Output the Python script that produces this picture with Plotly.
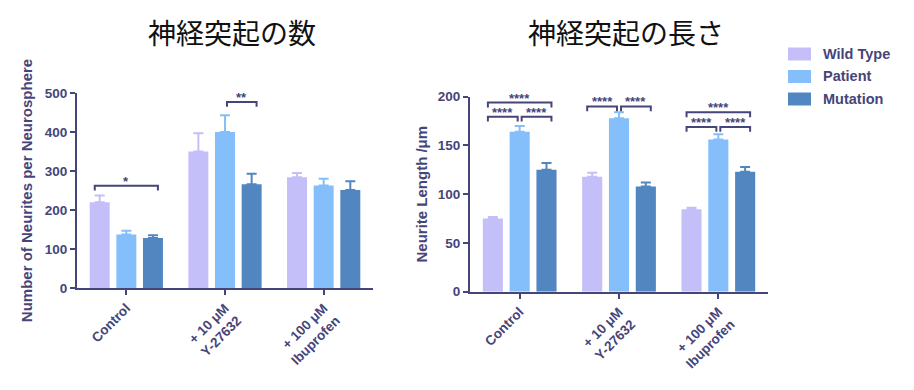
import plotly.graph_objects as go

# ---------------- data ----------------
categories = ["Control", "+ 10 μM<br>Y-27632", "+ 100 μM<br>Ibuprofen"]
series_names = ["Wild Type", "Patient", "Mutation"]
colors = ["#c4bff8", "#84bffc", "#5186c0"]

count_wt = [220, 350, 284]
count_pat = [137, 400, 263]
count_mut = [128, 266, 251]
count_wt_err = [17, 47, 11]
count_pat_err = [10, 43, 17]
count_mut_err = [7, 27, 23]

length_wt = [75, 118, 84.5]
length_pat = [164, 178, 156]
length_mut = [125, 108, 123]
length_wt_err = [1.5, 4, 1.5]
length_pat_err = [6, 6, 5.5]
length_mut_err = [7, 4, 5]

# significance comparisons: (category index, series a, series b, bracket height, label)
count_sig = [(0, 0, 2, 262, "*"), (1, 1, 2, 477, "**")]
length_sig = [
    (0, 0, 2, 194, "****"), (0, 0, 1, 179.5, "****"), (0, 1, 2, 179.5, "****"),
    (1, 0, 1, 190, "****"), (1, 1, 2, 190, "****"),
    (2, 0, 2, 184, "****"), (2, 0, 1, 169, "****"), (2, 1, 2, 169, "****"),
]

# ---------------- geometry helpers (page has an 8px body margin) ----------------
W, H = 898, 374


def PX(px):
    return (px - 8) / W


def PY(py):
    return 1 - (py - 8) / H


ink = "#45457a"
FAM = "Liberation Sans, Arial, sans-serif"
fw = dict(family=FAM, size=13.5, color=ink, weight="bold")

fig = go.Figure()
xs = list(range(len(categories)))
count_vals = [count_wt, count_pat, count_mut]
count_errs = [count_wt_err, count_pat_err, count_mut_err]
length_vals = [length_wt, length_pat, length_mut]
length_errs = [length_wt_err, length_pat_err, length_mut_err]

for i, name in enumerate(series_names):
    fig.add_trace(go.Bar(
        x=xs, y=count_vals[i], name=name, marker_color=colors[i], marker_line_width=0,
        error_y=dict(type="data", symmetric=False, array=count_errs[i], arrayminus=[0] * 3,
                     color=colors[i], thickness=2, width=5),
        legendgroup=name, showlegend=False, xaxis="x", yaxis="y"))
for i, name in enumerate(series_names):
    fig.add_trace(go.Bar(
        x=xs, y=length_vals[i], name=name, marker_color=colors[i], marker_line_width=0,
        error_y=dict(type="data", symmetric=False, array=length_errs[i], arrayminus=[0] * 3,
                     color=colors[i], thickness=2, width=5),
        legendgroup=name, showlegend=False, xaxis="x2", yaxis="y2"))

bargap = 0.19
slot = (1 - bargap) / 3
offsets = [-slot, 0, slot]


def add_brackets(sig, xref, yref, drop):
    for cat, a, b, h, lab in sig:
        pad_l = -0.05 if a == 0 else 0.02
        pad_r = 0.05 if b == 2 else -0.02
        x0 = cat + offsets[a] + pad_l
        x1 = cat + offsets[b] + pad_r
        fig.add_shape(type="path",
                      path=f"M {x0},{h - drop} L {x0},{h} L {x1},{h} L {x1},{h - drop}",
                      xref=xref, yref=yref, line=dict(color=ink, width=2))
        fig.add_annotation(x=(x0 + x1) / 2, y=h, xref=xref, yref=yref, text=lab,
                           showarrow=False, yanchor="bottom", yshift=-5,
                           font=dict(family=FAM, size=13, color=ink, weight="bold"))


add_brackets(count_sig, "x", "y", 12)
add_brackets(length_sig, "x2", "y2", 5)

axis_common = dict(showline=True, linecolor=ink, linewidth=2, ticks="outside", ticklen=5,
                   tickwidth=2, tickcolor=ink, showgrid=False, zeroline=False, tickfont=fw)
title_axis_font = dict(family=FAM, size=15, color=ink, weight="bold")

fig.update_layout(
    width=W, height=H,
    margin=dict(l=0, r=0, t=0, b=0, autoexpand=False),
    paper_bgcolor="white", plot_bgcolor="white",
    barmode="group", bargap=bargap, bargroupgap=0.25,
    showlegend=False,
    xaxis=dict(domain=[PX(77), PX(373)], range=[-0.5, 2.5], tickvals=xs, ticktext=categories,
               tickangle=-45, anchor="y", **axis_common),
    yaxis=dict(domain=[PY(288), PY(93)], range=[0, 500], dtick=100,
               anchor="x", title=dict(text="Number of Neurites per Neurosphere", standoff=9,
                                      font=title_axis_font),
               **axis_common),
    xaxis2=dict(domain=[PX(470), PX(768)], range=[-0.5, 2.5], tickvals=xs, ticktext=categories,
                tickangle=-45, anchor="y2", **axis_common),
    yaxis2=dict(domain=[PY(291.7), PY(96.7)], range=[0, 200], dtick=50,
                anchor="x2", title=dict(text="Neurite Length /μm", standoff=7,
                                        font=title_axis_font),
                **axis_common),
    font=dict(family=FAM),
)

# legend drawn as boxes + labels
legend_rows = [54, 76.5, 99]
for name, col, yy in zip(series_names, colors, legend_rows):
    fig.add_shape(type="rect", xref="paper", yref="paper",
                  x0=PX(788), x1=PX(811), y0=PY(yy + 6.5), y1=PY(yy - 6.5),
                  fillcolor=col, line=dict(width=0))
    fig.add_annotation(text=name, x=PX(821), y=PY(yy), xref="paper", yref="paper",
                       showarrow=False, xanchor="left", yanchor="middle",
                       font=dict(family=FAM, size=14.5, color=ink, weight="bold"))

title_font = dict(family="Noto Sans CJK JP", size=28, color="#111111")
fig.add_annotation(text="神経突起の数", x=PX(232), y=PY(32), xref="paper", yref="paper",
                   showarrow=False, font=title_font, xanchor="center", yanchor="middle")
fig.add_annotation(text="神経突起の長さ", x=PX(626), y=PY(32), xref="paper", yref="paper",
                   showarrow=False, font=title_font, xanchor="center", yanchor="middle")

fig.write_html("out.html")
